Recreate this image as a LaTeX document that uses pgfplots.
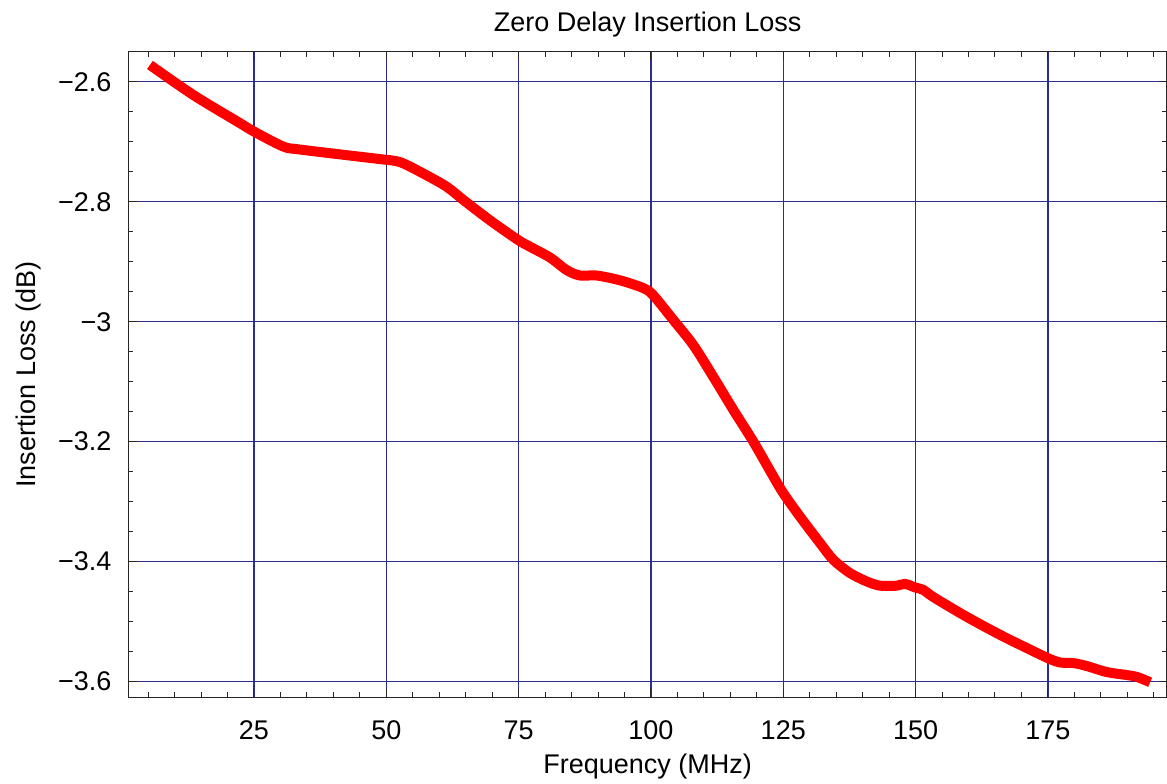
\documentclass[border=0pt]{standalone}
\usepackage{fontspec}
\setmainfont{Liberation Sans}
\usepackage{pgfplots}
\pgfplotsset{compat=1.18}
\definecolor{gridnavy}{RGB}{45,45,145}
\begin{document}
\fontsize{10.8}{13}\selectfont
\begin{tikzpicture}
\begin{axis}[
    name=ax,
    scale only axis,
    width=415.5pt, height=258.2pt,
    xmin=1.25, xmax=197.5,
    ymin=-3.626, ymax=-2.55,
    xtick={25,50,75,100,125,150,175},
    xticklabels={25,50,75,100,125,150,175},
    ytick={-3.6,-3.4,-3.2,-3,-2.8,-2.6},
    yticklabels={−3.6,−3.4,−3.2,−3,−2.8,−2.6},
    minor xtick={5,10,15,20,30,35,40,45,55,60,65,70,80,85,90,95,105,110,115,120,130,135,140,145,155,160,165,170,180,185,190,195},
    minor ytick={-3.55,-3.5,-3.45,-3.35,-3.3,-3.25,-3.15,-3.1,-3.05,-2.95,-2.9,-2.85,-2.75,-2.7,-2.65,-2.55},
    grid=major,
    major grid style={gridnavy, line width=0.5pt},
    tick align=inside,
    major tick length=3.3pt,
    minor tick length=2pt,
    every tick/.style={black!85, line width=0.4pt},
    axis line style={black!85, line width=0.6pt},
    xticklabel style={inner sep=0pt, anchor=north, yshift=-9.1pt},
    yticklabel style={inner sep=0pt, anchor=east, xshift=-6.5pt},
    title={Zero Delay Insertion Loss},
    every axis title/.style={at={(axis description cs:0.5,1.0314)}, anchor=base, inner sep=0pt},
    xlabel={Frequency (MHz)},
    xlabel style={at={(axis description cs:0.5,-0.1174)}, anchor=base, inner sep=0pt},
    ylabel={Insertion Loss (dB)},
    ylabel style={at={(axis description cs:-0.0888,0.5)}, anchor=base, inner sep=0pt},
]
\addplot[red, line width=4pt, line join=round, line cap=butt, smooth] coordinates {
(5.35,-2.572)(13.53,-2.622)(22.35,-2.669)(25.0,-2.683)(30.54,-2.708)
(33.69,-2.713)(45.03,-2.725)(48.81,-2.729)(52.59,-2.734)(56.99,-2.753)
(61.41,-2.775)(64.55,-2.797)(69.59,-2.831)(74.94,-2.864)(77.15,-2.875)
(80.93,-2.893)(84.09,-2.914)(86.60,-2.923)(89.76,-2.923)(94.16,-2.931)
(98.56,-2.944)(100.45,-2.956)(104.23,-2.997)(108.01,-3.039)(111.79,-3.092)
(115.57,-3.147)(119.35,-3.200)(123.13,-3.258)(125.02,-3.286)(128.17,-3.325)
(131.95,-3.369)(134.47,-3.397)(137.62,-3.419)(140.78,-3.433)(143.29,-3.440)
(146.44,-3.440)(148.01,-3.437)(149.90,-3.443)(151.47,-3.447)(153.36,-3.459)
(159.67,-3.492)(165.97,-3.522)(171.01,-3.544)(175.04,-3.561)(177.31,-3.568)
(179.82,-3.569)(182.35,-3.574)(186.13,-3.584)(189.91,-3.589)(191.80,-3.592)
(194.31,-3.601)
};
\end{axis}
\pgfresetboundingbox
\path[use as bounding box] ([shift={(-51.3pt,-34.3pt)}]ax.south west) rectangle ([shift={(0pt,20.7pt)}]ax.north east);
\end{tikzpicture}
\end{document}
